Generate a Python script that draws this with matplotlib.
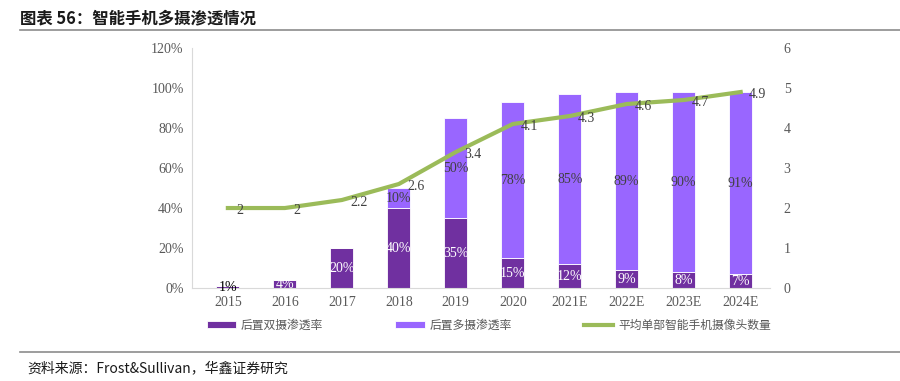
import matplotlib
matplotlib.use("Agg")
import matplotlib.pyplot as plt
import numpy as np

plt.rcParams['font.family'] = ['Liberation Serif', 'Noto Sans CJK SC', 'DejaVu Sans']

years = ['2015', '2016', '2017', '2018', '2019', '2020', '2021E', '2022E', '2023E', '2024E']
dual = [1, 4, 20, 40, 35, 15, 12, 9, 8, 7]
multi = [0, 0, 0, 10, 50, 78, 85, 89, 90, 91]
cams = [2, 2, 2.2, 2.6, 3.4, 4.1, 4.3, 4.6, 4.7, 4.9]

dark = '#7030A0'
light = '#9966FF'
green = '#9BBB59'
grey = '#595959'

fig = plt.figure(figsize=(9, 3.81), dpi=100)
ax = fig.add_axes([0.2133, 0.244, 0.642, 0.63])
x = np.arange(len(years))
w = 0.4

b1 = ax.bar(x, dual, w, color=dark, edgecolor='white', linewidth=0.6, label='后置双摄渗透率', zorder=2)
b2 = ax.bar(x, multi, w, bottom=dual, color=light, edgecolor='white', linewidth=0.6, label='后置多摄渗透率', zorder=2)

for i in range(len(years)):
    if dual[i] > 0:
        c = 'black' if dual[i] < 2 else 'white'
        ax.text(x[i], dual[i] / 2, f'{dual[i]}%', ha='center', va='center', color=c, fontsize=10, zorder=4)
    if multi[i] > 0:
        ax.text(x[i], dual[i] + multi[i] / 2, f'{multi[i]}%', ha='center', va='center', color='#404040', fontsize=10, zorder=4)

ax.set_ylim(0, 120)
ax.set_yticks(range(0, 121, 20))
ax.set_yticklabels([f'{v}%' for v in range(0, 121, 20)])
ax.set_xlim(-0.63, 9.51)
ax.set_xticks(x)
ax.set_xticklabels(years)
for s in ['top', 'right']:
    ax.spines[s].set_visible(False)
ax.spines['left'].set_color('#d9d9d9')
ax.spines['bottom'].set_color('#d9d9d9')
ax.tick_params(length=0, colors=grey, labelsize=10, pad=6)

ax2 = ax.twinx()
ln, = ax2.plot(x, cams, color=green, linewidth=3, label='平均单部智能手机摄像头数量', zorder=3)
for i in range(len(years)):
    lbl = f'{cams[i]:g}'
    ax2.annotate(lbl, (x[i], cams[i]), xytext=(6, -2), textcoords='offset points',
                 ha='left', va='center', color='#404040', fontsize=10)
ax2.set_ylim(0, 6)
ax2.set_yticks(range(0, 7))
for s in ['top', 'right', 'left', 'bottom']:
    ax2.spines[s].set_visible(False)
ax2.tick_params(length=0, colors=grey, labelsize=10, pad=10)

fig.legend(handles=[b1, b2, ln], loc='center', bbox_to_anchor=(0.543, 0.147), ncol=3, frameon=False,
           prop={'family': 'Noto Sans CJK SC', 'size': 8.5}, labelcolor=grey,
           handlelength=2.5, handleheight=0.55, columnspacing=6.1, handletextpad=0.4)

# title and footer
fig.text(0.022, 0.952, '图表 56：智能手机多摄渗透情况', fontsize=11.8, fontweight='bold',
         family='Noto Sans CJK SC', va='center', color='#1a1a1a')
fig.add_artist(plt.Line2D([0.022, 1.0], [0.922, 0.922], color='#8c8c8c', linewidth=1.2))
fig.add_artist(plt.Line2D([0.022, 1.0], [0.076, 0.076], color='#8c8c8c', linewidth=1.2))
fig.text(0.03, 0.034, '资料来源：Frost&Sullivan，华鑫证券研究', fontsize=10,
         family='Noto Sans CJK SC', va='center', color='#1a1a1a')

fig.savefig('out.png', dpi=100)
